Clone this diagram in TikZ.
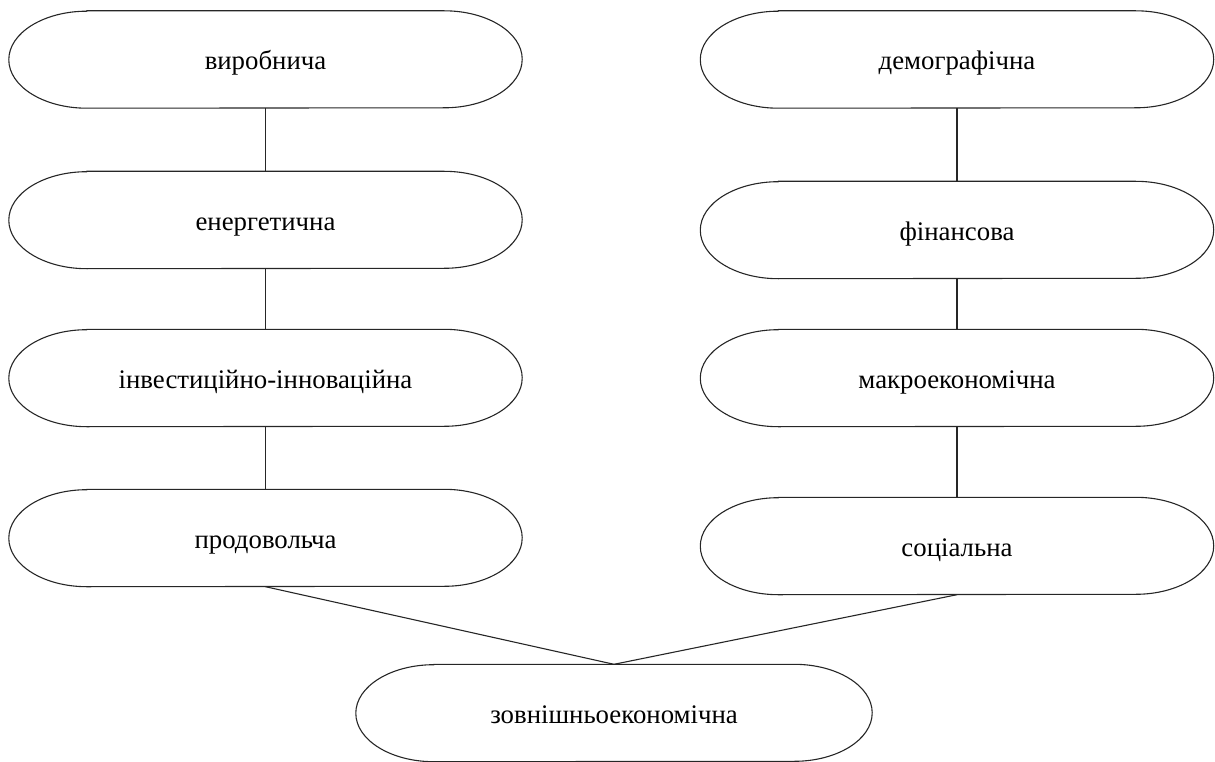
\documentclass[tikz,border=0pt]{standalone}
\usepackage{fontspec}
\setmainfont{Liberation Serif}
\begin{document}
\begin{tikzpicture}[x=1pt,y=-1pt,
  box/.style={minimum width=513pt, minimum height=97pt, inner sep=0pt, draw=none,
    text height=21pt, text depth=0pt,
    font=\fontsize{26.8}{30}\selectfont},
  outline/.style={draw=black!85, line width=1.1pt},
  link/.style={draw=black!85, line width=1.1pt}]
\useasboundingbox (0,0) rectangle (1215,762);
% left column
\node[box] (a1) at (265.5,59.5) {виробнича};
\node[box] (a2) at (265.5,220) {енергетична};
\node[box] (a3) at (265.5,378) {інвестиційно-інноваційна};
\node[box] (a4) at (265.5,538) {продовольча};
% right column
\node[box] (b1) at (957,59.5) {демографічна};
\node[box] (b2) at (957,230) {фінансова};
\node[box] (b3) at (957,378) {макроекономічна};
\node[box] (b4) at (957,546) {соціальна};
% bottom
\node[box, minimum width=516pt] (c) at (614,713) {зовнішньоекономічна};
\foreach \n in {a1,a2,a3,a4,b1,b2,b3,b4,c}{
  \draw[outline] ([xshift=78pt]\n.north west) -- ([xshift=-78pt]\n.north east)
    arc[start angle=90,end angle=-90,x radius=78pt,y radius=48.5pt]
    -- ([xshift=78pt]\n.south west)
    arc[start angle=270,end angle=90,x radius=78pt,y radius=48.5pt] -- cycle;
}
\draw[link] (a1.south) -- (a2.north);
\draw[link] (a2.south) -- (a3.north);
\draw[link] (a3.south) -- (a4.north);
\draw[link] (b1.south) -- (b2.north);
\draw[link] (b2.south) -- (b3.north);
\draw[link] (b3.south) -- (b4.north);
\draw[link] (a4.south) -- (c.north);
\draw[link] (b4.south) -- (c.north);
\end{tikzpicture}
\end{document}
